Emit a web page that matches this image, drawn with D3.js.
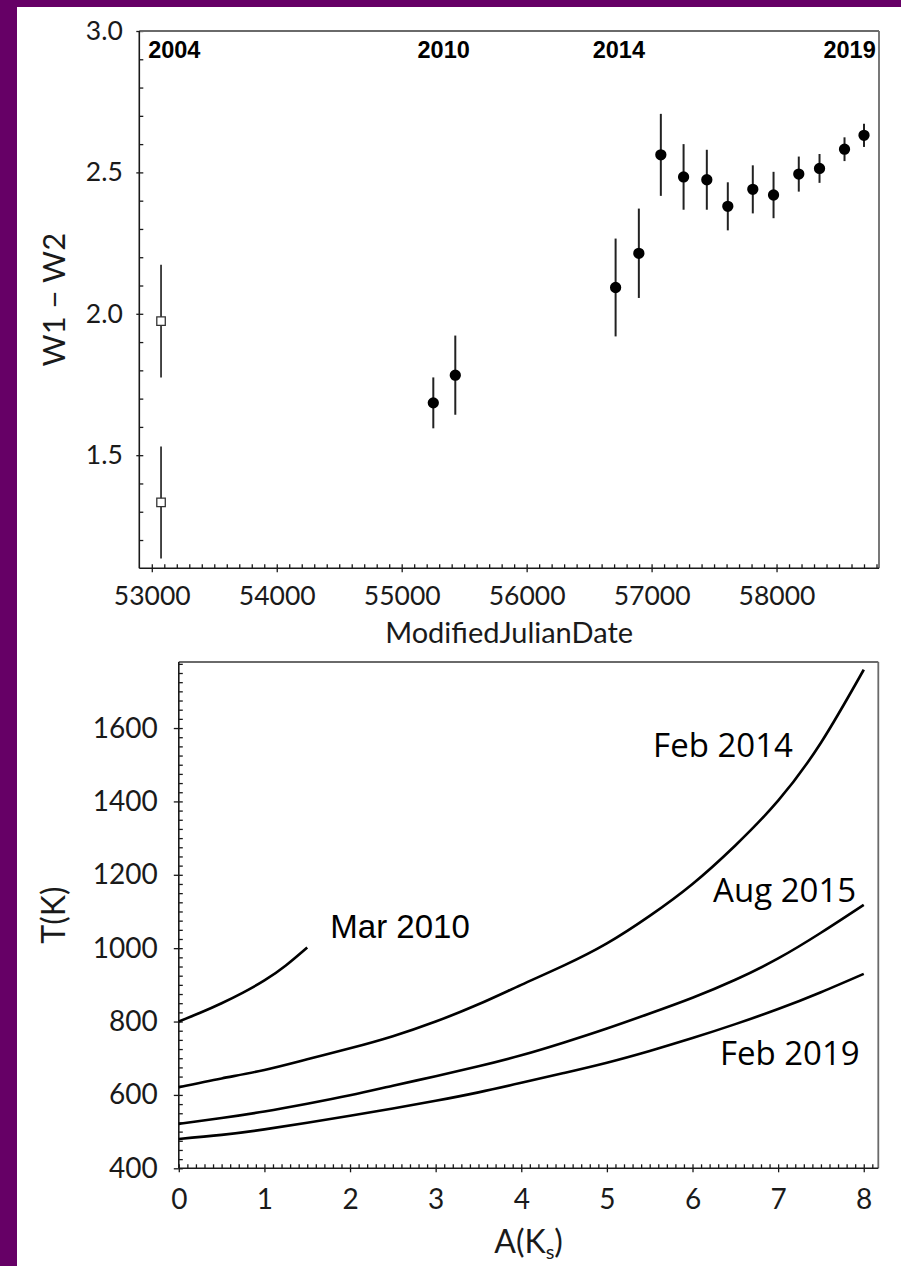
<!DOCTYPE html>
<html>
<head>
<meta charset="utf-8">
<script src="https://cdn.jsdelivr.net/npm/d3@7"></script>
<style>
  html, body { margin: 0; padding: 0; background: #fff; }
  svg { display: block; }
</style>
</head>
<body>
<svg id="fig" width="901" height="1266"></svg>
<script>
// ---------- Upper panel: W1 - W2 colour vs. MJD ----------
const epochMJD   = [55253, 55429, 56712, 56898, 57074, 57256, 57442, 57610, 57810, 57976, 58178, 58344, 58544, 58700];
const epochColor = [1.685, 1.783, 2.093, 2.214, 2.562, 2.484, 2.474, 2.380, 2.440, 2.420, 2.494, 2.514, 2.582, 2.631];
const epochErr   = [0.090, 0.140, 0.173, 0.158, 0.145, 0.116, 0.106, 0.085, 0.085, 0.082, 0.062, 0.051, 0.042, 0.041];

const earlyMJD   = [53074, 53074];
const earlyColor = [1.974, 1.333];
const earlyErr   = [0.199, 0.198];

const yearLabels = ["2004", "2010", "2014", "2019"];
const yearMJD    = [52971, 55336, 56738, 58794];
const yearAnchor = ["start", "middle", "middle", "end"];

const mjdTicks   = [53000, 54000, 55000, 56000, 57000, 58000];
const colorTicks = [1.5, 2.0, 2.5, 3.0];

// ---------- Lower panel: temperature vs. extinction ----------
const aMar2010 = [0, 0.25, 0.5, 0.75, 1.0, 1.25, 1.5];
const tMar2010 = [800, 824, 850, 879, 912, 953, 1002];

const aFeb2014 = [0, 0.5, 1, 1.5, 2, 2.5, 3, 3.5, 4, 4.5, 5, 5.5, 6, 6.5, 7, 7.5, 8];
const tFeb2014 = [621, 645, 668, 697, 727, 760, 800, 847, 900, 953, 1013, 1088, 1175, 1280, 1402, 1560, 1759];

const aAug2015 = [0, 0.5, 1, 1.5, 2, 2.5, 3, 3.5, 4, 4.5, 5, 5.5, 6, 6.5, 7, 7.5, 8];
const tAug2015 = [521, 537, 555, 576, 599, 625, 651, 678, 708, 743, 781, 822, 865, 914, 972, 1042, 1118];

const aFeb2019 = [0, 0.5, 1, 1.5, 2, 2.5, 3, 3.5, 4, 4.5, 5, 5.5, 6, 6.5, 7, 7.5, 8];
const tFeb2019 = [480, 491, 506, 524, 543, 563, 584, 607, 633, 660, 688, 720, 755, 793, 834, 880, 930];

const curveNames  = ["Mar 2010", "Feb 2014", "Aug 2015", "Feb 2019"];
const curveLabelA = [1.77, 5.54, 6.24, 6.32];
const curveLabelT = [1028, 1520, 1127, 682];

const akTicks = [0, 1, 2, 3, 4, 5, 6, 7, 8];
const tTicks  = [400, 600, 800, 1000, 1200, 1400, 1600];

// ---------- drawing ----------
const svg = d3.select("#fig");
svg.append("rect").attr("width", 901).attr("height", 1266).attr("fill", "#fff");
svg.append("rect").attr("x", 0).attr("y", 0).attr("width", 17).attr("height", 1266).attr("fill", "#660066");
svg.append("rect").attr("x", 0).attr("y", 0).attr("width", 901).attr("height", 7).attr("fill", "#660066");

const tickFont = "Lato, 'DejaVu Sans', sans-serif";
const ink = "#1a1a1a";

function styleAxis(g, size) {
  g.select(".domain").remove();
  g.selectAll(".tick line").attr("stroke", ink).attr("stroke-width", 1.3);
  g.attr("font-family", tickFont).attr("font-size", size);
  g.selectAll("text").attr("fill", ink);
  return g;
}

function frame(box) {
  // top and right borders lighter, left and bottom darker
  svg.append("line").attr("x1", box.left).attr("x2", box.right).attr("y1", box.top).attr("y2", box.top)
    .attr("stroke", "#6a6a6a").attr("stroke-width", 1.8);
  svg.append("line").attr("x1", box.right).attr("x2", box.right).attr("y1", box.top).attr("y2", box.bottom)
    .attr("stroke", "#6a6a6a").attr("stroke-width", 1.8);
  svg.append("line").attr("x1", box.left).attr("x2", box.left).attr("y1", box.top).attr("y2", box.bottom)
    .attr("stroke", ink).attr("stroke-width", 1.6);
  svg.append("line").attr("x1", box.left).attr("x2", box.right).attr("y1", box.bottom).attr("y2", box.bottom)
    .attr("stroke", ink).attr("stroke-width", 1.6);
}

// ===== Upper panel =====
const P1 = { left: 139.3, right: 879, top: 31, bottom: 568.3 };
const xTop = d3.scaleLinear().domain([52900, 58820]).range([P1.left, P1.right]);
const yTop = d3.scaleLinear().domain([1.1, 3.0]).range([P1.bottom, P1.top]);

const mjdMinor = d3.range(53000, 58820, 100).filter(v => v % 1000 !== 0);
const colMinor = d3.range(12, 30, 1).map(v => v / 10).filter(v => Math.round(v * 10) % 5 !== 0);

// minor ticks point inward
styleAxis(svg.append("g").attr("transform", `translate(0,${P1.bottom})`)
  .call(d3.axisBottom(xTop).tickValues(mjdMinor).tickSize(-4).tickFormat("")), 10);
styleAxis(svg.append("g").attr("transform", `translate(${P1.left},0)`)
  .call(d3.axisLeft(yTop).tickValues(colMinor).tickSize(-4).tickFormat("")), 10);
// major ticks inward part
styleAxis(svg.append("g").attr("transform", `translate(0,${P1.bottom})`)
  .call(d3.axisBottom(xTop).tickValues(mjdTicks).tickSize(-4).tickFormat("")), 10);
styleAxis(svg.append("g").attr("transform", `translate(${P1.left},0)`)
  .call(d3.axisLeft(yTop).tickValues(colorTicks).tickSize(-4).tickFormat("")), 10);
// major ticks outward with labels
styleAxis(svg.append("g").attr("transform", `translate(0,${P1.bottom})`)
  .call(d3.axisBottom(xTop).tickValues(mjdTicks).tickSizeInner(4).tickSizeOuter(0).tickPadding(14).tickFormat(d3.format("d"))), 26.5);
styleAxis(svg.append("g").attr("transform", `translate(${P1.left},0)`)
  .call(d3.axisLeft(yTop).tickValues(colorTicks).tickSizeInner(3).tickSizeOuter(0).tickPadding(13.5).tickFormat(d3.format(".1f"))), 26.5);

frame(P1);

// year markers along the top
yearLabels.forEach((lab, i) => {
  svg.append("text")
    .attr("x", xTop(yearMJD[i])).attr("y", 57.5)
    .attr("text-anchor", yearAnchor[i])
    .attr("font-family", "'Liberation Sans', Arial, sans-serif")
    .attr("font-weight", "bold").attr("font-size", 23.5)
    .attr("fill", "#000").text(lab);
});

// error bars + open squares for the early epoch
earlyMJD.forEach((m, i) => {
  svg.append("line")
    .attr("x1", xTop(m)).attr("x2", xTop(m))
    .attr("y1", yTop(earlyColor[i] + earlyErr[i])).attr("y2", yTop(earlyColor[i] - earlyErr[i]))
    .attr("stroke", "#333").attr("stroke-width", 1.8);
});
svg.append("g").selectAll("path").data(earlyMJD).join("path")
  .attr("transform", (m, i) => `translate(${xTop(m)},${yTop(earlyColor[i])})`)
  .attr("d", d3.symbol(d3.symbolSquare, 72))
  .attr("fill", "#fff").attr("stroke", "#333").attr("stroke-width", 1.3);

// error bars + filled markers
epochMJD.forEach((m, i) => {
  svg.append("line")
    .attr("x1", xTop(m)).attr("x2", xTop(m))
    .attr("y1", yTop(epochColor[i] + epochErr[i])).attr("y2", yTop(epochColor[i] - epochErr[i]))
    .attr("stroke", "#222").attr("stroke-width", 2);
});
svg.append("g").selectAll("path").data(epochMJD).join("path")
  .attr("transform", (m, i) => `translate(${xTop(m)},${yTop(epochColor[i])})`)
  .attr("d", d3.symbol(d3.symbolCircle, 100))
  .attr("fill", "#000");

// axis titles
svg.append("text")
  .attr("x", (P1.left + P1.right) / 2).attr("y", 643)
  .attr("text-anchor", "middle").attr("font-family", tickFont).attr("font-size", 29)
  .attr("fill", ink).text("ModifiedJulianDate");
svg.append("text")
  .attr("transform", `translate(65,${(P1.top + P1.bottom) / 2}) rotate(-90)`)
  .attr("text-anchor", "middle").attr("font-family", tickFont).attr("font-size", 31)
  .attr("fill", ink).text("W1 \u2212 W2");

// ===== Lower panel =====
const P2 = { left: 178.8, right: 878.3, top: 662, bottom: 1168.3 };
const xBot = d3.scaleLinear().domain([0, 8.17]).range([P2.left, P2.right]);
const yBot = d3.scaleLinear().domain([400, 1780]).range([P2.bottom, P2.top]);

const akMinor = d3.range(1, 82, 1).map(v => v / 10).filter(v => Math.round(v * 10) % 10 !== 0);
const tMinor  = d3.range(425, 1780, 25).filter(v => v % 200 !== 0);

styleAxis(svg.append("g").attr("transform", `translate(0,${P2.bottom})`)
  .call(d3.axisBottom(xBot).tickValues(akMinor).tickSize(-4).tickFormat("")), 10);
styleAxis(svg.append("g").attr("transform", `translate(${P2.left},0)`)
  .call(d3.axisLeft(yBot).tickValues(tMinor).tickSize(-4).tickFormat("")), 10);
styleAxis(svg.append("g").attr("transform", `translate(0,${P2.bottom})`)
  .call(d3.axisBottom(xBot).tickValues(akTicks).tickSize(-4).tickFormat("")), 10);
styleAxis(svg.append("g").attr("transform", `translate(${P2.left},0)`)
  .call(d3.axisLeft(yBot).tickValues(tTicks).tickSize(-4).tickFormat("")), 10);
styleAxis(svg.append("g").attr("transform", `translate(0,${P2.bottom})`)
  .call(d3.axisBottom(xBot).tickValues(akTicks).tickSizeInner(4).tickSizeOuter(0).tickPadding(17).tickFormat(d3.format("d"))), 28);
styleAxis(svg.append("g").attr("transform", `translate(${P2.left},0)`)
  .call(d3.axisLeft(yBot).tickValues(tTicks).tickSizeInner(5).tickSizeOuter(0).tickPadding(16).tickFormat(d3.format("d"))), 28);

frame(P2);

const line = d3.line()
  .x(d => xBot(d[0])).y(d => yBot(d[1]))
  .curve(d3.curveNatural);

const curves = [
  d3.zip(aMar2010, tMar2010),
  d3.zip(aFeb2014, tFeb2014),
  d3.zip(aAug2015, tAug2015),
  d3.zip(aFeb2019, tFeb2019)
];
svg.append("g").selectAll("path").data(curves).join("path")
  .attr("d", line)
  .attr("fill", "none").attr("stroke", "#000").attr("stroke-width", 2.6)
  .attr("stroke-linejoin", "round");

curveNames.forEach((name, i) => {
  svg.append("text")
    .attr("x", xBot(curveLabelA[i])).attr("y", yBot(curveLabelT[i]))
    .attr("font-family", i === 0 ? "'Liberation Sans', Arial, sans-serif" : "'Open Sans', sans-serif")
    .attr("font-size", 33).attr("fill", "#000").text(name);
});

svg.append("text")
  .attr("transform", `translate(65,${(P2.top + P2.bottom) / 2}) rotate(-90)`)
  .attr("text-anchor", "middle").attr("font-family", tickFont).attr("font-size", 32)
  .attr("fill", ink).text("T(K)");

const ax = svg.append("text")
  .attr("x", (P2.left + P2.right) / 2).attr("y", 1253)
  .attr("text-anchor", "middle").attr("font-family", tickFont).attr("font-size", 32)
  .attr("fill", ink);
ax.append("tspan").text("A(K");
ax.append("tspan").attr("font-size", 20).attr("dy", 6).text("s");
ax.append("tspan").attr("dy", -6).text(")");
</script>
</body>
</html>
